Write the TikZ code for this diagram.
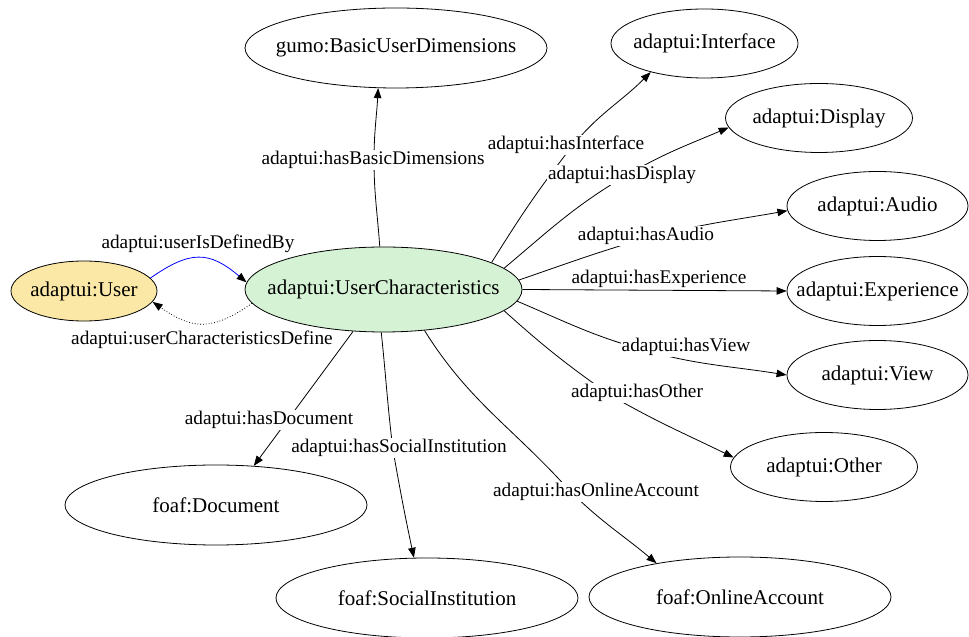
\documentclass[tikz,border=0pt]{standalone}
\usepackage{fontspec}
\setmainfont{Liberation Serif}
\usetikzlibrary{shapes.geometric,arrows.meta}
\definecolor{userfill}{HTML}{FBE8A6}
\definecolor{charfill}{HTML}{D5F2D5}
% zero-width text box, so the ellipse keeps its given size
\newcommand{\nt}[1]{\makebox[0pt][c]{#1}}
\begin{document}
\begin{tikzpicture}[x=1pt,y=1pt,
  conceptnode/.style={ellipse, draw=black, line width=0.8pt, inner sep=0pt,
    font=\fontsize{21}{25}\selectfont},
  widenode/.style={conceptnode, minimum width=302pt, minimum height=80pt},
  slimnode/.style={conceptnode, minimum width=187pt, minimum height=69pt},
  reledge/.style={draw=black, line width=0.8pt,
    -{Triangle[length=10pt,width=7.5pt,color=black]}},
  edgelabel/.style={fill=white, inner sep=1pt, font=\fontsize{19.3}{22}\selectfont},
]
\clip (0,0) rectangle (969,637);
\useasboundingbox (0,0) rectangle (969,637);

% concepts
\node[conceptnode, fill=userfill, minimum width=146pt, minimum height=60pt] (user) at (84,346) {\nt{adaptui:User}};
\node[conceptnode, fill=charfill, minimum width=277pt, minimum height=85pt] (uc) at (383.5,347.5) {\nt{adaptui:UserCharacteristics}};
\node[widenode] (basic) at (396,589) {\nt{gumo:BasicUserDimensions}};
\node[slimnode] (iface) at (704.5,593.5) {\nt{adaptui:Interface}};
\node[slimnode] (display) at (819,519) {\nt{adaptui:Display}};
\node[slimnode, minimum width=181pt] (audio) at (877.5,431) {\nt{adaptui:Audio}};
\node[slimnode, minimum width=181pt] (exper) at (877.5,346) {\nt{adaptui:Experience}};
\node[slimnode, minimum width=181pt] (view) at (877.5,262) {\nt{adaptui:View}};
\node[slimnode] (other) at (824,170) {\nt{adaptui:Other}};
\node[widenode] (doc) at (216,132) {\nt{foaf:Document}};
\node[widenode] (social) at (427,39) {\nt{foaf:SocialInstitution}};
\node[widenode] (online) at (740,40) {\nt{foaf:OnlineAccount}};

% points where the relations pass under their labels
\coordinate (pBasic) at (374,477);
\coordinate (pIface) at (570,488);
\coordinate (pDisp) at (622,459);
\coordinate (pAudio) at (650,400);
\coordinate (pView) at (640,288);
\coordinate (pOther) at (610,242);
\coordinate (pOnline) at (569,147);
\coordinate (pSocial) at (393,187);

% relations
\draw[reledge, draw=blue] (user.11) to[out=35,in=140,looseness=1.3] (uc.177);
\draw[reledge, dotted] (uc.186) to[out=215,in=325,looseness=1.25] (user.351);
\draw[reledge] (uc.95) to[out=94,in=270] (pBasic) to[out=90,in=267] (basic.246);
\draw[reledge] (uc.14) to[out=58,in=232] (pIface) to[out=52,in=225] (iface.208);
\draw[reledge] (uc.10) to[out=40,in=211] (pDisp) to[out=31,in=203] (display.186);
\draw[reledge] (uc.4) to[out=19,in=196] (pAudio) to[out=14,in=190] (audio.183);
\draw[reledge] (uc.east) -- (exper.west);
\draw[reledge] (uc.355) to[out=-23,in=164] (pView) to[out=-16,in=171] (view.west);
\draw[reledge] (uc.350) to[out=-42,in=145] (pOther) to[out=-30,in=154] (other.174);
\draw[reledge] (uc.315) to[out=-58,in=132] (pOnline) to[out=-45,in=140] (online.158);
\draw[reledge] (uc.267) to[out=-84,in=97] (pSocial) to[out=-80,in=102] (social.108);
\draw[reledge] (uc.234) -- (doc.46);

% relation labels
\node[edgelabel, fill=none] (lDef) at (198,393) {adaptui:userIsDefinedBy};
\node[edgelabel, fill=none] (lChar) at (202,297) {adaptui:userCharacteristicsDefine};
\node[edgelabel] (lBasic) at (373,477) {adaptui:hasBasicDimensions};
\node[edgelabel] (lIface) at (566,492) {adaptui:hasInterface};
\node[edgelabel] (lDisp) at (622,462) {adaptui:hasDisplay};
\node[edgelabel] (lAudio) at (646,401) {adaptui:hasAudio};
\node[edgelabel, fill=none] (lExp) at (659,358) {adaptui:hasExperience};
\node[edgelabel] (lView) at (686,290) {adaptui:hasView};
\node[edgelabel] (lOther) at (637,244) {adaptui:hasOther};
\node[edgelabel] (lDoc) at (269,217) {adaptui:hasDocument};
\node[edgelabel] (lSocial) at (399,189) {adaptui:hasSocialInstitution};
\node[edgelabel] (lOnline) at (596,145) {adaptui:hasOnlineAccount};
\end{tikzpicture}
\end{document}
